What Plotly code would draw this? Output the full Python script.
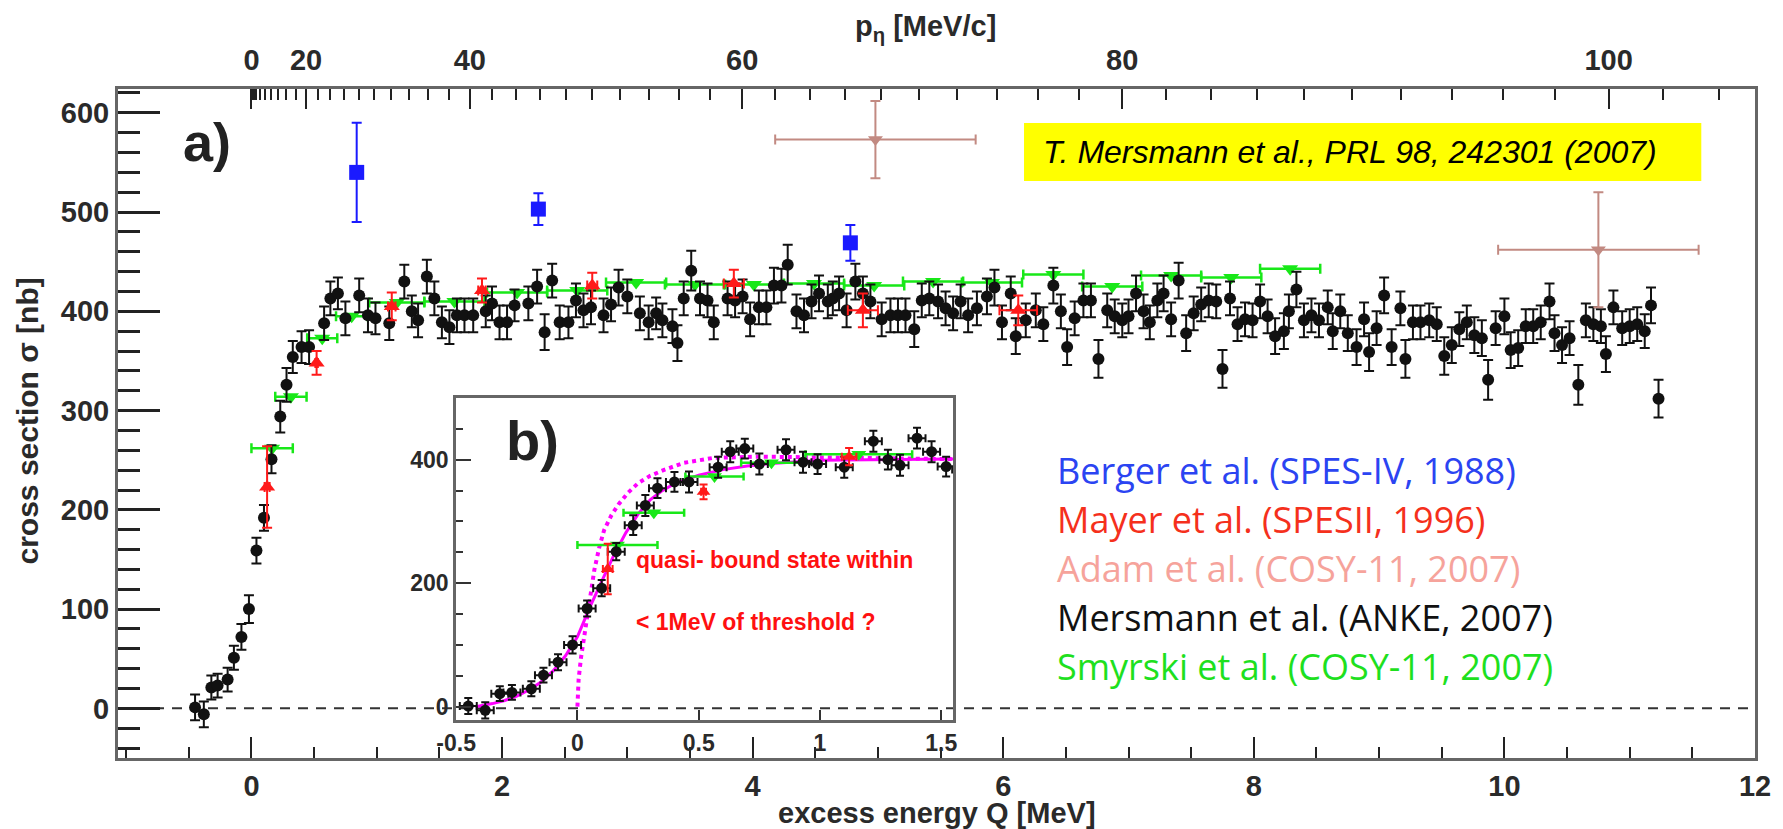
import math
import plotly.graph_objects as go

# ---------------------------------------------------------------------------
# p d -> 3He eta total cross section near threshold
# ---------------------------------------------------------------------------

# ANKE (Mersmann et al., 2007): excess energy Q [MeV], sigma [nb], error [nb]
ANKE_Q = [
    -0.45, -0.38, -0.32, -0.27, -0.19, -0.14, -0.08, -0.02, 0.04, 0.10, 0.16, 0.23,
    0.28, 0.33, 0.40, 0.46, 0.58, 0.63, 0.69, 0.75, 0.86, 0.93,
    0.99, 1.10, 1.22, 1.28, 1.33, 1.40, 1.46, 1.52, 1.58, 1.64,
    1.70, 1.77, 1.87, 1.92, 1.98, 2.04, 2.10, 2.21, 2.28, 2.34,
    2.40, 2.46, 2.53, 2.59, 2.65, 2.71,
    2.81, 2.87, 2.93, 3.00, 3.10, 3.17, 3.23, 3.28, 3.36, 3.40,
    3.45, 3.51, 3.58, 3.64, 3.69, 3.80, 3.86, 3.92, 3.98, 4.05,
    4.11, 4.17, 4.23, 4.28, 4.35, 4.41, 4.47, 4.53, 4.60, 4.64,
    4.69, 4.75, 4.82, 4.88, 4.94, 5.03, 5.10, 5.16, 5.22, 5.29,
    5.35, 5.41, 5.48, 5.54, 5.60, 5.66, 5.72, 5.79, 5.87, 5.93,
    5.99, 6.06, 6.10, 6.18, 6.26, 6.32, 6.40, 6.46, 6.51, 6.57,
    6.64, 6.70, 6.76, 6.83, 6.89, 6.95, 7.00, 7.06, 7.12, 7.17,
    7.23, 7.28, 7.34, 7.40, 7.46,
    7.52, 7.58, 7.64, 7.70, 7.75, 7.81, 7.87, 7.93, 7.99, 8.05,
    8.11, 8.17, 8.24, 8.28, 8.34, 8.40, 8.46, 8.52, 8.59, 8.63,
    8.69, 8.75, 8.82, 8.88, 8.92, 8.98, 9.04, 9.10, 9.17, 9.21,
    9.27, 9.33, 9.40, 9.46, 9.52, 9.58, 9.64, 9.70, 9.76, 9.82,
    9.87, 9.93, 10.00, 10.05, 10.11, 10.17, 10.23, 10.29, 10.36, 10.40,
    10.46, 10.52, 10.59, 10.65, 10.71, 10.77, 10.81, 10.87, 10.94, 11.00,
    11.06, 11.12, 11.17, 11.23,
]
ANKE_SIGMA = [
    1, -6, 21, 23, 29, 51, 72, 100, 159, 192, 251, 294,
    326, 354, 364, 364, 388, 413, 418, 393, 416, 396,
    393, 388, 430, 400, 391, 435, 413, 389, 384, 396,
    396, 396, 400, 408, 389, 389, 406, 408, 425, 379,
    431, 389, 389, 411, 401, 404,
    396, 407, 424, 415, 398, 389, 398, 391, 385, 368,
    413, 441, 413, 411, 389, 413, 411, 415, 392, 404,
    404, 426, 426, 447, 400, 396, 410, 418, 410, 413,
    418, 401, 430, 418, 410, 392, 396, 396, 396, 382,
    411, 413, 410, 403, 398, 410, 396, 403, 415, 424,
    389, 418, 375, 391, 401, 387, 426, 400, 364, 393,
    411, 411, 352, 401, 395, 391, 395, 418, 400, 389,
    411, 418, 392, 431, 378,
    398, 407, 411, 410, 342, 413, 387, 392, 391, 410,
    395, 375, 380, 400, 422, 391, 396, 391, 404, 380,
    400, 378, 364, 392, 359, 383, 416, 364, 403, 352,
    389, 389, 391, 387, 355, 366, 382, 389, 376, 373,
    331, 383, 395, 361, 363, 385, 385, 389, 410, 378,
    366, 373, 326, 391, 387, 385, 357, 404, 383, 385,
    387, 380, 406, 312,
]
ANKE_ERR = [
    13, 13, 12, 12, 12, 12, 13, 14, 13, 13, 14, 16,
    17, 16, 16, 17, 17, 17, 16, 17, 17, 17,
    16, 17, 17, 16, 17, 17, 17, 16, 17, 17,
    17, 17, 16, 17, 17, 17, 16, 17, 17, 18,
    17, 17, 16, 17, 17, 17,
    17, 17, 18, 17, 17, 17, 16, 17, 17, 18,
    17, 20, 17, 17, 17, 17, 17, 17, 17, 17,
    17, 18, 17, 20, 17, 17, 17, 18, 17, 17,
    17, 17, 18, 17, 17, 17, 17, 17, 17, 18,
    17, 17, 17, 17, 17, 17, 17, 17, 18, 18,
    17, 17, 18, 17, 17, 17, 18, 17, 18, 17,
    17, 17, 19, 17, 17, 17, 17, 18, 17, 17,
    17, 18, 17, 18, 18,
    17, 17, 17, 17, 19, 17, 17, 17, 17, 17,
    17, 18, 18, 17, 18, 17, 17, 17, 17, 18,
    17, 18, 18, 17, 19, 17, 18, 18, 17, 19,
    17, 17, 17, 17, 19, 18, 17, 17, 18, 18,
    20, 17, 18, 18, 18, 17, 17, 17, 18, 18,
    18, 17, 20, 17, 17, 17, 18, 17, 17, 17,
    17, 17, 18, 19,
]

# SPES-IV (Berger et al., 1988)
SPES4_Q = [0.84, 2.29, 4.78]
SPES4_SIGMA = [540, 503, 469]
SPES4_ERR = [50, 16, 18]

# SPES II (Mayer et al., 1996)
SPES2_Q = [0.125, 0.52, 1.12, 1.84, 2.72, 3.85, 4.88, 6.12]
SPES2_SIGMA = [223, 348, 405, 421, 426, 428, 401, 401]
SPES2_ERR = [41, 12, 14, 12, 13, 14, 17, 15]
SPES2_QERR = [0.02, 0.01, 0.03, 0.03, 0.04, 0.08, 0.12, 0.15]

# COSY-11 (Adam et al., 2007)
ADAM_Q = [4.98, 10.75]
ADAM_SIGMA = [573, 462]
ADAM_ERR = [39, 58]
ADAM_QERR = [0.80, 0.80]

# COSY-11 (Smyrski et al., 2007), Q bins
SMYRSKI_Q = [0.165, 0.315, 0.565, 0.80, 1.16, 1.62, 2.12, 2.60, 3.07, 3.54,
             4.01, 4.49, 4.97, 5.44, 5.91, 6.40, 6.87, 7.34, 7.82, 8.29]
SMYRSKI_SIGMA = [262, 314, 373, 395, 409, 410, 419, 421, 429, 427,
                 427, 428, 426, 430, 429, 437, 425, 436, 434, 443]
SMYRSKI_QERR = [0.165, 0.125, 0.12, 0.125, 0.22, 0.24, 0.24, 0.24, 0.24, 0.24,
                0.24, 0.24, 0.24, 0.24, 0.24, 0.24, 0.24, 0.24, 0.24, 0.24]

# Fit curves shown in the threshold panel b)
FIT_Q = [-0.42, -0.35, -0.30, -0.25, -0.20, -0.15, -0.10, -0.05, 0.00, 0.05,
         0.10, 0.15, 0.20, 0.25, 0.30, 0.35, 0.40, 0.50, 0.60, 0.70,
         0.80, 0.90, 1.00, 1.20, 1.40, 1.55]
FIT_SIGMA = [0, 5, 10, 17, 27, 40, 58, 82, 113, 160,
             203, 245, 282, 312, 335, 350, 361, 375, 384, 390,
             394, 397, 399, 400, 401, 401]
POLE_Q = [0.0, 0.005, 0.015, 0.03, 0.05, 0.07, 0.09, 0.11, 0.14, 0.17,
          0.21, 0.25, 0.30, 0.36, 0.44, 0.56, 0.75, 1.00, 1.30, 1.55]
POLE_SIGMA = [0, 45, 80, 120, 170, 222, 258, 286, 310, 328,
              347, 362, 374, 384, 395, 403, 405, 404, 402, 401]

# Momentum axis (eta momentum in the CM frame)
P_MAJOR = [0, 20, 40, 60, 80, 100]
P_MINOR = list(range(0, 106, 2))
M_ETA = 547.862
M_HE3 = 2808.39

LEGEND_ROWS = [
    ("Berger et al. (SPES-IV, 1988)", "#2b44f2"),
    ("Mayer et al. (SPESII, 1996)", "#f5301c"),
    ("Adam et al. (COSY-11, 2007)", "#f6a39b"),
    ("Mersmann et al. (ANKE, 2007)", "#111111"),
    ("Smyrski et al. (COSY-11, 2007)", "#1ee01e"),
]


def q_from_p(p):
    return math.sqrt(p * p + M_ETA ** 2) + math.sqrt(p * p + M_HE3 ** 2) - M_ETA - M_HE3


W, H = 1783, 829
L, R, T, B = 118, 1764, 89, 758


def px(x):
    return (x - L) / (R - L)


def py(y):
    return (B - y) / (B - T)


BLACK = "#111111"
RED = "#ff1a1a"
GREEN = "#18e818"
BLUE = "#1a1aff"
BROWN = "#c28a82"
MAGENTA = "#ff00ff"
AXIS_TXT = "#2a2a2a"
FRAME = "#666666"
FONT = "Liberation Sans, Arial, sans-serif"

fig = go.Figure()

# ---- main panel a) -------------------------------------------------------
fig.add_trace(go.Scatter(
    x=SMYRSKI_Q, y=SMYRSKI_SIGMA, mode="markers",
    marker=dict(symbol="triangle-down", size=14, color=GREEN),
    error_x=dict(type="data", array=SMYRSKI_QERR, color=GREEN, thickness=2.5, width=5),
    showlegend=False, xaxis="x", yaxis="y"))
fig.add_trace(go.Scatter(
    x=ANKE_Q, y=ANKE_SIGMA, mode="markers",
    marker=dict(symbol="circle", size=12, color=BLACK),
    error_y=dict(type="data", array=ANKE_ERR, color=BLACK, thickness=2, width=5),
    showlegend=False, xaxis="x", yaxis="y"))
fig.add_trace(go.Scatter(
    x=SPES2_Q, y=SPES2_SIGMA, mode="markers",
    marker=dict(symbol="triangle-up", size=14, color=RED),
    error_y=dict(type="data", array=SPES2_ERR, color=RED, thickness=2, width=5),
    error_x=dict(type="data", array=SPES2_QERR, color=RED, thickness=2, width=5),
    showlegend=False, xaxis="x", yaxis="y"))
fig.add_trace(go.Scatter(
    x=SPES4_Q, y=SPES4_SIGMA, mode="markers",
    marker=dict(symbol="square", size=15, color=BLUE),
    error_y=dict(type="data", array=SPES4_ERR, color=BLUE, thickness=2, width=5),
    showlegend=False, xaxis="x", yaxis="y"))
# the COSY-11 points are attached to the top (momentum) axis, which shares the Q range
fig.add_trace(go.Scatter(
    x=ADAM_Q, y=ADAM_SIGMA, mode="markers",
    marker=dict(symbol="triangle-down", size=13, color=BROWN),
    error_y=dict(type="data", array=ADAM_ERR, color=BROWN, thickness=2, width=5),
    error_x=dict(type="data", array=ADAM_QERR, color=BROWN, thickness=2, width=5),
    showlegend=False, xaxis="x2", yaxis="y"))

# ---- inset b) ------------------------------------------------------------
QMAX_IN = 1.6


def sub(qs, *cols):
    keep = [i for i, q in enumerate(qs) if q <= QMAX_IN]
    return [[c[i] for i in keep] for c in (qs,) + cols]


fig.add_trace(go.Scatter(
    x=FIT_Q, y=FIT_SIGMA, mode="lines",
    line=dict(color=MAGENTA, width=3),
    showlegend=False, xaxis="x3", yaxis="y3"))
fig.add_trace(go.Scatter(
    x=POLE_Q, y=POLE_SIGMA, mode="lines",
    line=dict(color=MAGENTA, width=4, dash="dot"),
    showlegend=False, xaxis="x3", yaxis="y3"))
gq, gs, ge = sub(SMYRSKI_Q, SMYRSKI_SIGMA, SMYRSKI_QERR)
fig.add_trace(go.Scatter(
    x=gq, y=gs, mode="markers",
    marker=dict(symbol="triangle-down", size=13, color=GREEN),
    error_x=dict(type="data", array=ge, color=GREEN, thickness=2.5, width=4),
    showlegend=False, xaxis="x3", yaxis="y3"))
aq, asg, ae = sub(ANKE_Q, ANKE_SIGMA, ANKE_ERR)
fig.add_trace(go.Scatter(
    x=aq, y=asg, mode="markers",
    marker=dict(symbol="circle", size=11, color=BLACK),
    error_y=dict(type="data", array=ae, color=BLACK, thickness=2, width=4),
    error_x=dict(type="constant", value=0.035, color=BLACK, thickness=2, width=4),
    showlegend=False, xaxis="x3", yaxis="y3"))
rq, rs, re_, rqe = sub(SPES2_Q, SPES2_SIGMA, SPES2_ERR, SPES2_QERR)
fig.add_trace(go.Scatter(
    x=rq, y=rs, mode="markers",
    marker=dict(symbol="triangle-up", size=12, color=RED),
    error_y=dict(type="data", array=re_, color=RED, thickness=2, width=4),
    error_x=dict(type="data", array=rqe, color=RED, thickness=2, width=4),
    showlegend=False, xaxis="x3", yaxis="y3"))

tick_font = dict(family=FONT, size=29, color=AXIS_TXT, weight="bold")
inset_font = dict(family=FONT, size=23, color=AXIS_TXT, weight="bold")

fig.update_layout(
    width=W, height=H,
    margin=dict(l=L, r=W - R, t=T, b=H - B, pad=0),
    paper_bgcolor="white", plot_bgcolor="rgba(0,0,0,0)",
    showlegend=False,
    xaxis=dict(
        range=[-1.065, 12], domain=[0, 1], anchor="y",
        showgrid=False, zeroline=False,
        showline=True, linecolor=FRAME, linewidth=3, mirror=True,
        ticks="inside", ticklen=21, tickwidth=2, tickcolor="#222",
        tickvals=[0, 2, 4, 6, 8, 10, 12], tickfont=tick_font,
        minor=dict(dtick=0.5, tick0=0, ticks="inside", ticklen=11,
                   tickwidth=2, tickcolor="#222", showgrid=False),
    ),
    xaxis2=dict(
        range=[-1.065, 12], overlaying="x", side="top", anchor="y",
        showgrid=False, zeroline=False, showline=False,
        ticks="inside", ticklen=20, tickwidth=2, tickcolor="#222",
        tickmode="array",
        tickvals=[q_from_p(p) for p in P_MAJOR],
        ticktext=[str(p) for p in P_MAJOR],
        tickfont=tick_font, ticklabelstandoff=12,
        minor=dict(tickmode="array", tickvals=[q_from_p(p) for p in P_MINOR],
                   ticks="inside", ticklen=11, tickwidth=2, tickcolor="#222",
                   showgrid=False),
    ),
    yaxis=dict(
        range=[-50, 624], domain=[0, 1], anchor="x",
        showgrid=False, zeroline=False,
        showline=True, linecolor=FRAME, linewidth=3, mirror=True,
        ticks="inside", ticklen=42, tickwidth=2.5, tickcolor="#222",
        tickvals=[0, 100, 200, 300, 400, 500, 600], tickfont=tick_font,
        minor=dict(dtick=20, tick0=0, ticks="inside", ticklen=22,
                   tickwidth=2.5, tickcolor="#222", showgrid=False),
    ),
    xaxis3=dict(
        range=[-0.5, 1.55], domain=[px(458), px(958)], anchor="y3",
        showgrid=False, zeroline=False,
        showline=True, linecolor=FRAME, linewidth=3, mirror=True,
        ticks="inside", ticklen=10, tickwidth=2, tickcolor="#333",
        tickvals=[-0.5, 0, 0.5, 1, 1.5],
        ticktext=["-0.5", "0", "0.5", "1", "1.5"], tickfont=inset_font,
    ),
    yaxis3=dict(
        range=[-21.6, 500], domain=[py(720), py(398)], anchor="x3",
        showgrid=False, zeroline=False,
        showline=True, linecolor=FRAME, linewidth=3, mirror=True,
        ticks="inside", ticklen=15, tickwidth=2, tickcolor="#333",
        tickvals=[0, 200, 400], tickfont=inset_font,
        minor=dict(dtick=50, tick0=0, ticks="inside", ticklen=7,
                   tickwidth=2, tickcolor="#333", showgrid=False),
    ),
)

shapes = [
    dict(type="line", xref="paper", yref="y", x0=0, x1=1, y0=0, y1=0,
         line=dict(color="#333", width=2, dash="10px,8px"), layer="below"),
    dict(type="rect", xref="paper", yref="paper",
         x0=px(1029), x1=px(1710), y0=py(181), y1=py(123),
         fillcolor="#ffff00", line=dict(width=0), layer="below"),
]
fig.update_layout(shapes=shapes)

ann = []


def add_text(text, x, y, size, color=AXIS_TXT, family=FONT, xanchor="center",
             yanchor="middle", angle=0):
    ann.append(dict(text=text, x=x, y=y, xref="paper", yref="paper",
                    xanchor=xanchor, yanchor=yanchor, showarrow=False,
                    textangle=angle,
                    font=dict(family=family, size=size, color=color)))


add_text("<b>a)</b>", px(207), py(142), 54, color="#222")
add_text("<b>b)</b>", px(535), py(440), 56, color="#222")
add_text("<i>T. Mersmann et al., PRL 98, 242301 (2007)</i>", px(1357), py(152), 32,
         color="#000")
add_text("<b>excess energy Q [MeV]</b>", 0.5, py(813), 29)
add_text("<b>cross section σ [nb]</b>", px(27), py(421), 30, angle=-90)
add_text("<b>p<sub>η</sub> [MeV/c]</b>", px(930), py(28), 29)
add_text("<b>quasi- bound state within</b>", px(637), py(560), 23, color="#ff1010",
         xanchor="left")
add_text("<b>&lt; 1MeV of threshold ?</b>", px(637), py(622), 23, color="#ff1010",
         xanchor="left")

for i, (label, col) in enumerate(LEGEND_ROWS):
    add_text(label, px(1060), py(470 + 49 * i), 36, color=col,
             family="Open Sans, Lato, sans-serif", xanchor="left")

fig.update_layout(annotations=ann)

fig.write_html("out.html")
